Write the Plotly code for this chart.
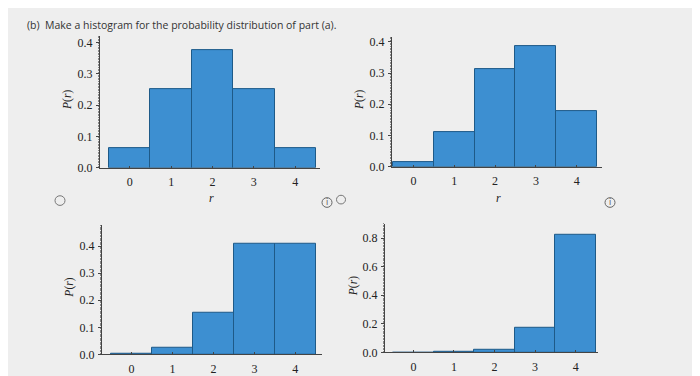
import plotly.graph_objects as go

OFF = 8  # page body margin
W, H = 700 - OFF, 376 - OFF
r_values = [0, 1, 2, 3, 4]
p_a = [0.0625, 0.25, 0.375, 0.25, 0.0625]
p_b = [0.015, 0.111, 0.311, 0.385, 0.179]
p_c = [0.002, 0.026, 0.154, 0.41, 0.41]
p_d = [0.0001, 0.002, 0.02, 0.175, 0.825]
y_ticks_small = [0.0, 0.1, 0.2, 0.3, 0.4]
y_ticks_large = [0.0, 0.2, 0.4, 0.6, 0.8]
title_text = "(b)  Make a histogram for the probability distribution of part (a)."

BG = "#eeeeee"
BAR = "#3d8fd1"
EDGE = "#1e5a88"
AX = "#444444"
TICKFONT = dict(family="Liberation Serif", size=12, color="#222222")


def px(x):
    return (x - OFF) / W


def py(y):
    return 1 - (y - OFF) / H


panels = [
    (p_a, (100, 320), (35, 171), [-0.72, 4.6], [0, 0.42], y_ticks_small, True),
    (p_b, (392, 602), (36, 170), [-0.525, 4.62], [0, 0.415], y_ticks_small, True),
    (p_c, (102, 322), (230, 364), [-0.72, 4.65], [0, 0.479], y_ticks_small, False),
    (p_d, (385, 598), (229, 362), [-0.70, 4.55], [0, 0.90], y_ticks_large, False),
]

fig = go.Figure()
annotations = []
for i, (vals, (x0, x1), (yt, yb), xr, yr, yt_vals, show_r) in enumerate(panels, start=1):
    xa = "x" if i == 1 else f"x{i}"
    ya = "y" if i == 1 else f"y{i}"
    fig.add_trace(go.Bar(
        x=r_values, y=vals, width=1.0, xaxis=xa, yaxis=ya,
        marker=dict(color=BAR, line=dict(color=EDGE, width=1)),
        showlegend=False, hoverinfo="skip",
    ))
    xkey = "xaxis" if i == 1 else f"xaxis{i}"
    ykey = "yaxis" if i == 1 else f"yaxis{i}"
    fig.update_layout(**{
        xkey: dict(domain=[px(x0), px(x1)], anchor=ya, range=xr,
                   tickvals=r_values, ticktext=[str(v) for v in r_values],
                   showgrid=False, zeroline=False, showline=True, linecolor=AX,
                   linewidth=1, ticks="inside", ticklen=2, tickcolor=AX,
                   ticklabelstandoff=3,
                   tickfont=TICKFONT, fixedrange=True),
        ykey: dict(domain=[py(yb), py(yt)], anchor=xa, range=yr,
                   tickvals=yt_vals, ticktext=[f"{v:.1f}" for v in yt_vals],
                   showgrid=False, zeroline=False, showline=True, linecolor=AX,
                   linewidth=1, ticks="outside", ticklen=3, tickcolor=AX,
                   ticklabelstandoff=1,
                   tickfont=TICKFONT, fixedrange=True,
                   minor=dict(ticks="outside", ticklen=1.5, tickcolor="#888888",
                              nticks=20)),
    })
    annotations.append(dict(
        x=px(x0 - 32), y=py((yt + yb) / 2 - 2), xref="paper", yref="paper",
        text="<i>P</i>(<i>r</i>)", textangle=-90, showarrow=False,
        font=dict(family="Liberation Serif", size=11.5, color="#222222"),
        xanchor="center", yanchor="middle"))
    if show_r:
        annotations.append(dict(
            x=px((x0 + x1) / 2 + 1), y=py(202), xref="paper", yref="paper",
            text="<i>r</i>", showarrow=False,
            font=dict(family="Liberation Serif", size=12, color="#222222"),
            xanchor="center", yanchor="middle"))

annotations.append(dict(
    x=px(25), y=py(23), xref="paper", yref="paper", text=title_text,
    showarrow=False, xanchor="left", yanchor="middle",
    font=dict(family="Open Sans", size=10.5, color="#333333")))

for cx, cy in [(327, 207), (610, 207)]:
    annotations.append(dict(
        x=px(cx), y=py(cy), xref="paper", yref="paper", text="i",
        showarrow=False, xanchor="center", yanchor="middle",
        font=dict(family="DejaVu Sans", size=8, color="#555555")))

shapes = []
for cx, cy, rad, col in [(60, 205, 5, "#777777"), (341, 204, 4.5, "#777777"),
                         (327, 207, 5, "#666666"), (610, 207, 5, "#666666")]:
    shapes.append(dict(type="circle", xref="paper", yref="paper",
                       x0=px(cx - rad), x1=px(cx + rad),
                       y0=py(cy + rad), y1=py(cy - rad),
                       line=dict(color=col, width=1)))

fig.update_layout(
    width=W, height=H, margin=dict(l=0, r=0, t=0, b=0),
    paper_bgcolor=BG, plot_bgcolor=BG, bargap=0,
    annotations=annotations, shapes=shapes,
)

fig.write_html("out.html", config={"displayModeBar": False})
